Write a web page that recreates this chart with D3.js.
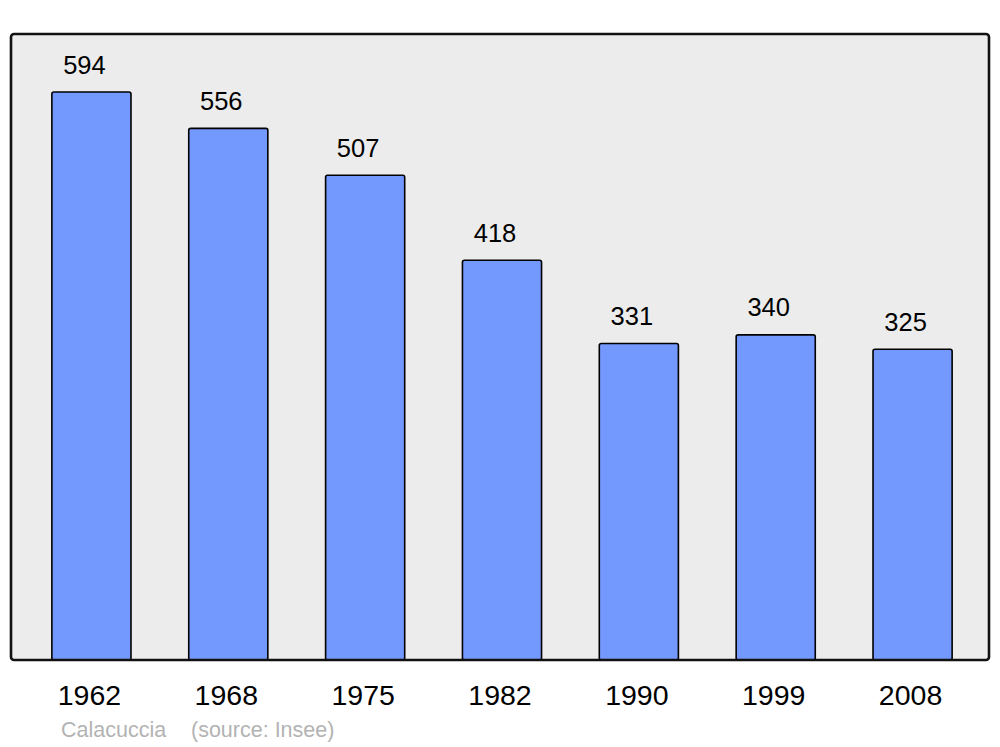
<!DOCTYPE html>
<html><head><meta charset="utf-8">
<script src="https://cdnjs.cloudflare.com/ajax/libs/d3/7.8.5/d3.min.js"></script>
<style>body{margin:0;background:#fff}svg{display:block}</style>
</head><body>
<script>
const years = ["1962","1968","1975","1982","1990","1999","2008"];
const population = [594,556,507,418,331,340,325];
const footerLabels = ["Calacuccia", "(source: Insee)"];

const W = 1000, H = 747;
const svg = d3.select("body").append("svg").attr("width", W).attr("height", H);
const font = "Liberation Sans, Arial, sans-serif";

const frame = {x0: 11, x1: 989, y0: 34, y1: 660};
svg.append("rect").attr("x", frame.x0).attr("y", frame.y0)
  .attr("width", frame.x1 - frame.x0).attr("height", frame.y1 - frame.y0)
  .attr("rx", 3).attr("fill", "#ececec");

const x = d3.scaleBand().domain(years).range([23, 981]).paddingInner(0.422).paddingOuter(0.211);
const y = d3.scaleLinear().domain([0, 594]).range([frame.y1, 92]);

svg.selectAll("rect.bar").data(years).join("rect").attr("class","bar")
  .attr("x", d => x(d)).attr("width", x.bandwidth())
  .attr("y", (d,i) => y(population[i])).attr("height", (d,i) => y(0) - y(population[i]))
  .attr("rx", 2).attr("fill", "#7399ff").attr("stroke", "#000").attr("stroke-width", 1.6);

svg.selectAll("text.val").data(years).join("text").attr("class","val")
  .attr("x", d => x(d) + x.bandwidth()/2 - 7).attr("y", (d,i) => y(population[i]) - 18.5)
  .attr("text-anchor","middle").attr("font-family", font).attr("font-size", 25.5)
  .attr("fill","#000").text((d,i) => population[i]);

svg.append("rect").attr("x", frame.x0).attr("y", frame.y0)
  .attr("width", frame.x1 - frame.x0).attr("height", frame.y1 - frame.y0)
  .attr("rx", 3).attr("fill", "none").attr("stroke", "#111").attr("stroke-width", 2.6);

const axis = d3.axisBottom(x).tickSize(0).tickPadding(0);
const ax = svg.append("g").attr("transform", `translate(-2,${frame.y1})`).call(axis);
ax.select(".domain").remove();
ax.selectAll("text").attr("font-family", font).attr("font-size", 28.5).attr("fill","#000")
  .attr("dy", null).attr("y", 44.5);

svg.append("text").attr("x", 61).attr("y", 737).attr("font-family", font).attr("font-size", 21.5)
  .attr("fill","#b3b3b3").text(footerLabels[0]);
svg.append("text").attr("x", 191).attr("y", 737).attr("font-family", font).attr("font-size", 21.5)
  .attr("fill","#b3b3b3").text(footerLabels[1]);
</script>
</body></html>
